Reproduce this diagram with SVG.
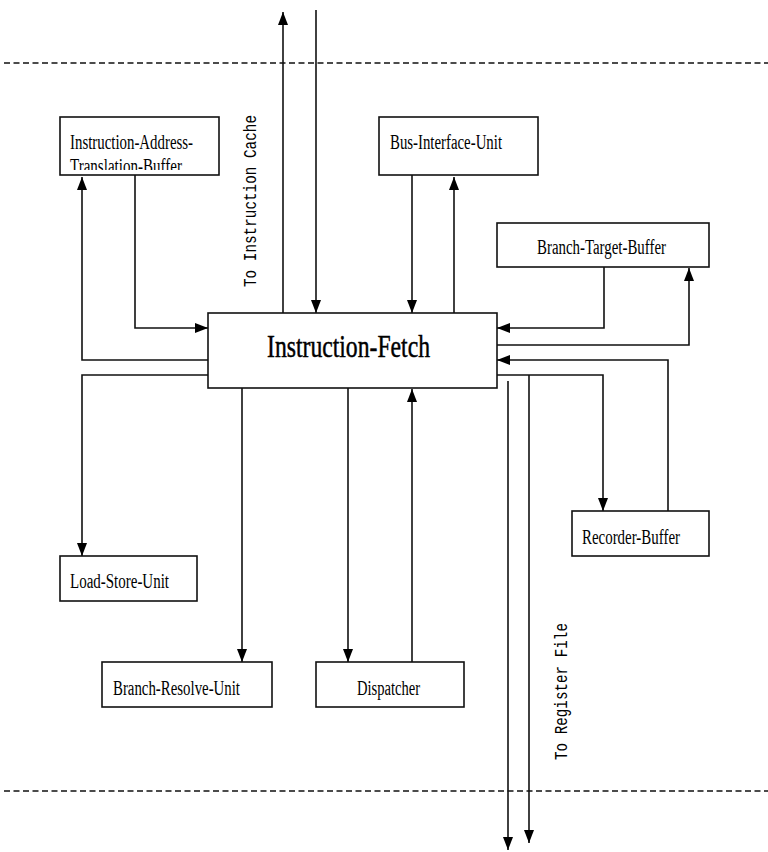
<svg xmlns="http://www.w3.org/2000/svg" width="768" height="852" viewBox="0 0 768 852">
  <style>
    .box { fill: #ffffff; stroke: #111111; stroke-width: 1.6; }
    .lbl { font-family: "Liberation Serif", "Times New Roman", serif; font-size: 20px; fill: #000000; }
    .big { font-family: "Liberation Serif", "Times New Roman", serif; font-size: 32px; fill: #000000; stroke: #000000; stroke-width: 0.5; }
    .side { font-family: "Liberation Mono", "Courier New", monospace; font-size: 18px; fill: #000000; }
    .wire { fill: none; stroke: #111111; stroke-width: 1.6; }
    .bound { fill: none; stroke: #111111; stroke-width: 1.4; stroke-dasharray: 6 3.5; }
  </style>
  <defs>
    <marker id="arrow" markerUnits="userSpaceOnUse" markerWidth="13" markerHeight="12" viewBox="0 0 13 12" refX="13" refY="6" orient="auto">
      <path d="M0,1 L13,6 L0,11 Z" fill="#000000"/>
    </marker>
    <clipPath id="iatbClip">
      <rect x="61" y="118" width="157" height="52"/>
    </clipPath>
  </defs>

  <rect width="768" height="852" fill="#ffffff"/>

  <!-- boundary lines -->
  <g id="boundaries">
    <line class="bound" x1="4" y1="63" x2="768" y2="63"/>
    <line class="bound" x1="4" y1="791" x2="768" y2="791"/>
  </g>

  <!-- connectors -->
  <g id="connectors">
    <!-- instruction cache -->
    <path class="wire" d="M283,313 V12" marker-end="url(#arrow)"/>
    <path class="wire" d="M316,10 V313" marker-end="url(#arrow)"/>
    <!-- address translation buffer -->
    <path class="wire" d="M135,175 V328 H208" marker-end="url(#arrow)"/>
    <path class="wire" d="M208,360 H82 V177" marker-end="url(#arrow)"/>
    <!-- load/store -->
    <path class="wire" d="M208,375 H82 V556" marker-end="url(#arrow)"/>
    <!-- branch resolve, dispatcher -->
    <path class="wire" d="M242,388 V662" marker-end="url(#arrow)"/>
    <path class="wire" d="M348,388 V662" marker-end="url(#arrow)"/>
    <path class="wire" d="M412,662 V389" marker-end="url(#arrow)"/>
    <!-- bus interface -->
    <path class="wire" d="M412,175 V313" marker-end="url(#arrow)"/>
    <path class="wire" d="M454,313 V177" marker-end="url(#arrow)"/>
    <!-- branch target buffer -->
    <path class="wire" d="M604,267 V328 H497" marker-end="url(#arrow)"/>
    <path class="wire" d="M497,345 H689 V268" marker-end="url(#arrow)"/>
    <!-- recorder buffer -->
    <path class="wire" d="M668,511 V360 H497" marker-end="url(#arrow)"/>
    <path class="wire" d="M497,375 H603 V511" marker-end="url(#arrow)"/>
    <!-- register file -->
    <path class="wire" d="M508,381 V850" marker-end="url(#arrow)"/>
    <path class="wire" d="M529,375 V843" marker-end="url(#arrow)"/>
  </g>

  <!-- side labels -->
  <g id="labels">
    <text class="side" transform="translate(256,287) rotate(-90)" textLength="172" lengthAdjust="spacingAndGlyphs">To Instruction Cache</text>
    <text class="side" transform="translate(567,760) rotate(-90)" textLength="137" lengthAdjust="spacingAndGlyphs">To Register File</text>
  </g>

  <g id="instruction-fetch">
    <rect class="box" x="208" y="313" width="289" height="75"/>
    <text class="big" x="267" y="357" textLength="163" lengthAdjust="spacingAndGlyphs">Instruction-Fetch</text>
  </g>

  <g id="iatb">
    <rect class="box" x="60" y="117" width="159" height="58"/>
    <g clip-path="url(#iatbClip)">
      <text class="lbl" x="70" y="149" textLength="123" lengthAdjust="spacingAndGlyphs">Instruction-Address-</text>
      <text class="lbl" x="70" y="173" textLength="112" lengthAdjust="spacingAndGlyphs">Translation-Buffer</text>
    </g>
  </g>

  <g id="bus-interface-unit">
    <rect class="box" x="379" y="117" width="159" height="58"/>
    <text class="lbl" x="390" y="149" textLength="112" lengthAdjust="spacingAndGlyphs">Bus-Interface-Unit</text>
  </g>

  <g id="branch-target-buffer">
    <rect class="box" x="497" y="223" width="212" height="44"/>
    <text class="lbl" x="537" y="254" textLength="129" lengthAdjust="spacingAndGlyphs">Branch-Target-Buffer</text>
  </g>

  <g id="recorder-buffer">
    <rect class="box" x="572" y="511" width="137" height="45"/>
    <text class="lbl" x="582" y="544" textLength="98" lengthAdjust="spacingAndGlyphs">Recorder-Buffer</text>
  </g>

  <g id="load-store-unit">
    <rect class="box" x="60" y="556" width="137" height="45"/>
    <text class="lbl" x="70" y="588" textLength="99" lengthAdjust="spacingAndGlyphs">Load-Store-Unit</text>
  </g>

  <g id="branch-resolve-unit">
    <rect class="box" x="102" y="662" width="170" height="45"/>
    <text class="lbl" x="113" y="695" textLength="127" lengthAdjust="spacingAndGlyphs">Branch-Resolve-Unit</text>
  </g>

  <g id="dispatcher">
    <rect class="box" x="316" y="662" width="148" height="45"/>
    <text class="lbl" x="357" y="695" textLength="63" lengthAdjust="spacingAndGlyphs">Dispatcher</text>
  </g>
</svg>
